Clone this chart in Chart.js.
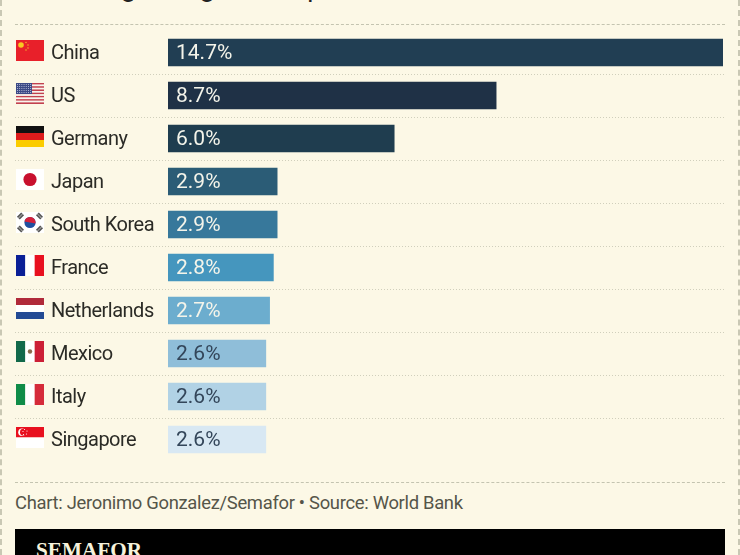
<!DOCTYPE html>
<html>
<head>
<meta charset="utf-8">
<title>Share of global goods exports</title>
<script src="https://cdn.jsdelivr.net/npm/chart.js@4"></script>
<style>
  html, body { margin: 0; padding: 0; }
  body { width: 740px; height: 555px; overflow: hidden; position: relative; background: #fcf8e6; font-family: Roboto, sans-serif; }
  canvas { position: absolute; left: 0; top: 0; }
  .side { position: absolute; top: 0; bottom: 0; width: 0; border-left: 2px dashed #c9c8b4; }
  .rule { position: absolute; left: 15px; width: 710px; border-top: 1px dashed #c4c4b0; }
  #title { position: absolute; left: 16px; top: -30px; font-size: 26.5px; line-height: 36px; color: #222; white-space: nowrap; }
  #source { position: absolute; left: 15px; top: 490px; font-size: 18.4px; line-height: 26px; letter-spacing: -0.3px; color: #555549; white-space: nowrap; }
  #footer { position: absolute; left: 15px; top: 529px; width: 710px; height: 26px; background: #000; overflow: hidden; }
  #footer span { position: absolute; left: 21px; top: 9px; font: bold 21.2px/24px "Liberation Serif", serif; color: #f6f2dc; }
</style>
</head>
<body>
<div class="side" style="left:0"></div>
<div class="side" style="left:738px"></div>
<div id="title">Share of global goods exports</div>
<div class="rule" style="top:24px"></div>
<div class="rule" style="top:482px"></div>
<div id="source">Chart: Jeronimo Gonzalez/Semafor • Source: World Bank</div>
<div id="footer"><span>SEMAFOR</span></div>
<canvas id="exportsChart" width="740" height="555"></canvas>
<script>
const countries = ["China", "US", "Germany", "Japan", "South Korea", "France", "Netherlands", "Mexico", "Italy", "Singapore"];
const shares = [14.7, 8.7, 6.0, 2.9, 2.9, 2.8, 2.7, 2.6, 2.6, 2.6];
const barColors = ["#213e53", "#1f3146", "#1f3d4f", "#2b5c76", "#37789b", "#4596be", "#6cadce", "#8fbed9", "#b1d2e5", "#d8e8f3"];
const valueColors = ["#f4f4ea", "#f4f4ea", "#f4f4ea", "#f4f4ea", "#f4f4ea", "#f4f4ea", "#f4f4ea", "#33465a", "#33465a", "#33465a"];

const FLAG_W = 28;
const FLAG_H = 21;

function stripesH(ctx, x, y, colors) {
  const h = FLAG_H / colors.length;
  colors.forEach((c, i) => { ctx.fillStyle = c; ctx.fillRect(x, y + i * h, FLAG_W, h); });
}
function stripesV(ctx, x, y, colors) {
  const w = FLAG_W / colors.length;
  colors.forEach((c, i) => { ctx.fillStyle = c; ctx.fillRect(x + i * w, y, w, FLAG_H); });
}
function dot(ctx, x, y, r, color) {
  ctx.fillStyle = color;
  ctx.beginPath();
  ctx.arc(x, y, r, 0, Math.PI * 2);
  ctx.fill();
}

const flags = {
  "China": (ctx, x, y) => {
    ctx.fillStyle = "#e8202a";
    ctx.fillRect(x, y, FLAG_W, FLAG_H);
    dot(ctx, x + 5, y + 5, 2.8, "#f8c822");
    [[10, 2.5], [12, 5], [12, 8], [10, 10]].forEach(p => dot(ctx, x + p[0], y + p[1], 0.8, "#f3a52a"));
  },
  "US": (ctx, x, y) => {
    for (let i = 0; i < 13; i++) {
      ctx.fillStyle = i % 2 ? "#f8f4ee" : "#c2414f";
      ctx.fillRect(x, y + i * FLAG_H / 13, FLAG_W, FLAG_H / 13);
    }
    ctx.fillStyle = "#3c4a86";
    ctx.fillRect(x, y, 16, 11);
    ctx.fillStyle = "#c8cce0";
    for (let r = 0; r < 5; r++) {
      for (let c = 0; c < 7; c++) ctx.fillRect(x + 1 + c * 2.2, y + 1 + r * 2, 0.9, 0.9);
    }
  },
  "Germany": (ctx, x, y) => stripesH(ctx, x, y, ["#111111", "#dd1c1c", "#fbcc00"]),
  "Japan": (ctx, x, y) => {
    ctx.fillStyle = "#ffffff";
    ctx.fillRect(x, y, FLAG_W, FLAG_H);
    dot(ctx, x + 14, y + 10.5, 6.6, "#c8102e");
  },
  "South Korea": (ctx, x, y) => {
    ctx.fillStyle = "#ffffff";
    ctx.fillRect(x, y, FLAG_W, FLAG_H);
    const cx = x + 14, cy = y + 10.5;
    dot(ctx, cx, cy, 5.6, "#1f4fa0");
    ctx.fillStyle = "#d5203a";
    ctx.beginPath();
    ctx.arc(cx, cy, 5.6, Math.PI * 1.05, Math.PI * 2.05);
    ctx.fill();
    // the four trigram blocks, broken up so they read grey at this size
    ctx.fillStyle = "#555555";
    [[-9.5, -6.5, 1], [9.5, -6.5, -1], [-9.5, 6.5, -1], [9.5, 6.5, 1]].forEach(t => {
      ctx.save();
      ctx.translate(cx + t[0], cy + t[1]);
      ctx.rotate(t[2] * -Math.PI / 4);
      ctx.fillRect(-3, -2, 6, 4);
      ctx.fillStyle = "#ffffff";
      ctx.fillRect(-3, -0.3, 6, 0.6);
      ctx.restore();
    });
  },
  "France": (ctx, x, y) => stripesV(ctx, x, y, ["#0a1f96", "#ffffff", "#e8101f"]),
  "Netherlands": (ctx, x, y) => stripesH(ctx, x, y, ["#b02a3a", "#ffffff", "#234a94"]),
  "Mexico": (ctx, x, y) => {
    stripesV(ctx, x, y, ["#12694a", "#ffffff", "#cc1f36"]);
    dot(ctx, x + 14, y + 10.5, 2.2, "#8a6a4a");
  },
  "Italy": (ctx, x, y) => stripesV(ctx, x, y, ["#0f8c48", "#ffffff", "#d52b3a"]),
  "Singapore": (ctx, x, y) => {
    stripesH(ctx, x, y, ["#e8101f", "#ffffff"]);
    dot(ctx, x + 6, y + 5.2, 3.8, "#ffffff");
    dot(ctx, x + 7.4, y + 5.2, 3.4, "#e8101f");
    [[8.5, 2.5], [11, 4], [10.5, 7], [7.5, 7.5], [7, 4.5]].forEach(p => dot(ctx, x + p[0], y + p[1], 0.6, "#ffffff"));
  }
};

// dotted separators between rows, running under the flags and labels too
const rowRules = {
  id: "rowRules",
  beforeDatasetsDraw(chart) {
    const { ctx, scales: { y } } = chart;
    ctx.save();
    ctx.strokeStyle = "#d0cfbc";
    ctx.lineWidth = 1;
    ctx.setLineDash([1, 2]);
    for (let i = 0; i < countries.length - 1; i++) {
      const py = Math.round((y.getPixelForTick(i) + y.getPixelForTick(i + 1)) / 2) + 0.5;
      ctx.beginPath();
      ctx.moveTo(15, py);
      ctx.lineTo(725, py);
      ctx.stroke();
    }
    ctx.restore();
  }
};

// flag and country name for each row, left aligned on the category scale
const rowHeads = {
  id: "rowHeads",
  afterDraw(chart) {
    const { ctx, scales: { y } } = chart;
    countries.forEach((name, i) => {
      const top = Math.round(y.getPixelForTick(i) - 2 - FLAG_H / 2);
      flags[name](ctx, 16, top);
    });
    ctx.save();
    ctx.font = "20px Roboto";
    ctx.letterSpacing = "-0.5px";
    ctx.fillStyle = "#2b2b26";
    ctx.textBaseline = "middle";
    ctx.textAlign = "left";
    countries.forEach((name, i) => ctx.fillText(name, y.left, y.getPixelForTick(i) + 1));
    ctx.restore();
  }
};

// percentage printed inside the start of each bar
const barValues = {
  id: "barValues",
  afterDatasetsDraw(chart) {
    const { ctx } = chart;
    ctx.save();
    ctx.font = "21px Roboto";
    ctx.textBaseline = "middle";
    ctx.textAlign = "left";
    chart.getDatasetMeta(0).data.forEach((bar, i) => {
      ctx.fillStyle = valueColors[i];
      ctx.fillText(shares[i].toFixed(1) + "%", bar.base + 8, bar.y + 1);
    });
    ctx.restore();
  }
};

new Chart(document.getElementById("exportsChart").getContext("2d"), {
  type: "bar",
  data: {
    labels: countries,
    datasets: [{
      data: shares,
      backgroundColor: barColors,
      categoryPercentage: 1,
      barPercentage: 0.64
    }]
  },
  plugins: [rowRules, barValues, rowHeads],
  options: {
    indexAxis: "y",
    responsive: false,
    animation: false,
    layout: { padding: { left: 51, right: 17, top: 31, bottom: 94 } },
    plugins: { legend: { display: false }, tooltip: { enabled: false } },
    scales: {
      x: { display: false, min: 0, max: 14.7 },
      y: {
        afterFit(scale) { scale.width = 117; },
        border: { display: false },
        grid: { display: false, drawTicks: false },
        ticks: { display: false }
      }
    }
  }
});
</script>
</body>
</html>
